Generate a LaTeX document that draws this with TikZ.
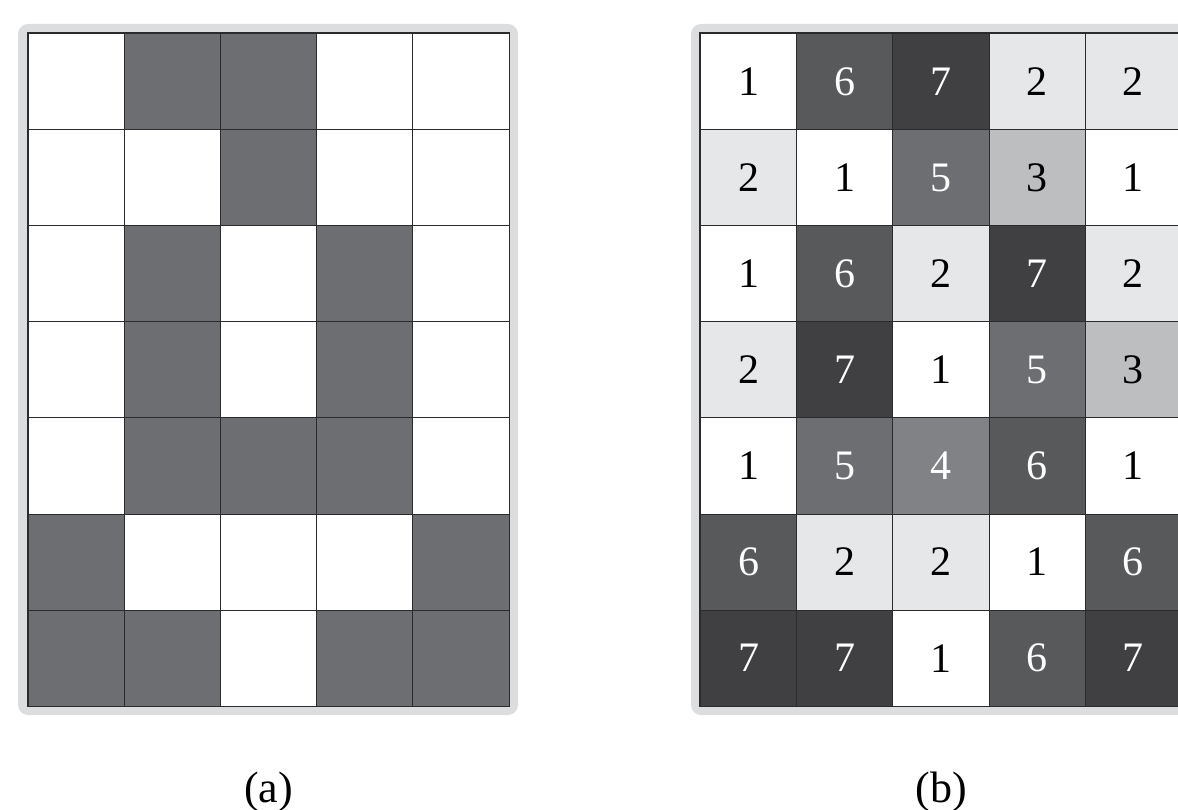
\documentclass[tikz,border=0pt]{standalone}
\usepackage{fontspec}
\setmainfont{Liberation Serif}
\definecolor{frame}{HTML}{DCDDDE}
\definecolor{lineC}{HTML}{2B2B2D}
\definecolor{gA}{HTML}{FFFFFF}
\definecolor{gB}{HTML}{E6E7E8}
\definecolor{gC}{HTML}{BCBEC0}
\definecolor{gD}{HTML}{808285}
\definecolor{gE}{HTML}{6D6E71}
\definecolor{gF}{HTML}{58595B}
\definecolor{gG}{HTML}{404042}
\begin{document}
\begin{tikzpicture}[x=1pt,y=-1pt,
  cellbox/.style={draw=lineC, line width=0.9pt, minimum width=96.2pt, minimum height=96.1pt, inner sep=0pt, font=\fontsize{42}{42}\selectfont},
  framebox/.style={fill=frame, draw=none, rounded corners=10pt},
  gridborder/.style={draw=lineC, line width=1.6pt},
  n0/.style={fill=gA}, nd/.style={fill=gE},
  n1/.style={fill=gA, text=black}, n2/.style={fill=gB, text=black},
  n3/.style={fill=gC, text=black}, n4/.style={fill=gD, text=white},
  n5/.style={fill=gE, text=white}, n6/.style={fill=gF, text=white},
  n7/.style={fill=gG, text=white},
  caption/.style={anchor=base, font=\fontsize{44}{44}\selectfont}]
\useasboundingbox (0,0) rectangle (1178,810);
\clip (0,0) rectangle (1178,810);
% frames
\fill[framebox] (18,24) rectangle (518,715);
\fill[framebox] (691,24) rectangle (1191,715);
% left grid
\foreach \row [count=\r] in {{0,1,1,0,0},{0,0,1,0,0},{0,1,0,1,0},{0,1,0,1,0},{0,1,1,1,0},{1,0,0,0,1},{1,1,0,1,1}} {
  \foreach \v [count=\c] in \row {
    \ifnum\v=1
      \node[cellbox, nd] (L-\r-\c) at ({28+96.2*(\c-0.5)},{33.5+96.1*(\r-0.5)}) {};
    \else
      \node[cellbox, n0] (L-\r-\c) at ({28+96.2*(\c-0.5)},{33.5+96.1*(\r-0.5)}) {};
    \fi
  }
}
\draw[gridborder] (L-1-1.north west) rectangle (L-7-5.south east);
% right grid
\foreach \row [count=\r] in {{1,6,7,2,2},{2,1,5,3,1},{1,6,2,7,2},{2,7,1,5,3},{1,5,4,6,1},{6,2,2,1,6},{7,7,1,6,7}} {
  \foreach \v [count=\c] in \row {
    \node[cellbox, n\v] (R-\r-\c) at ({700.7+96.1*(\c-0.5)},{33.5+96.1*(\r-0.5)}) {\v};
  }
}
\draw[gridborder] (R-1-1.north west) rectangle (R-7-5.south east);
% captions
\node[caption] (capa) at (268.5,802) {(a)};
\node[caption] (capb) at (941,802) {(b)};
\end{tikzpicture}
\end{document}
